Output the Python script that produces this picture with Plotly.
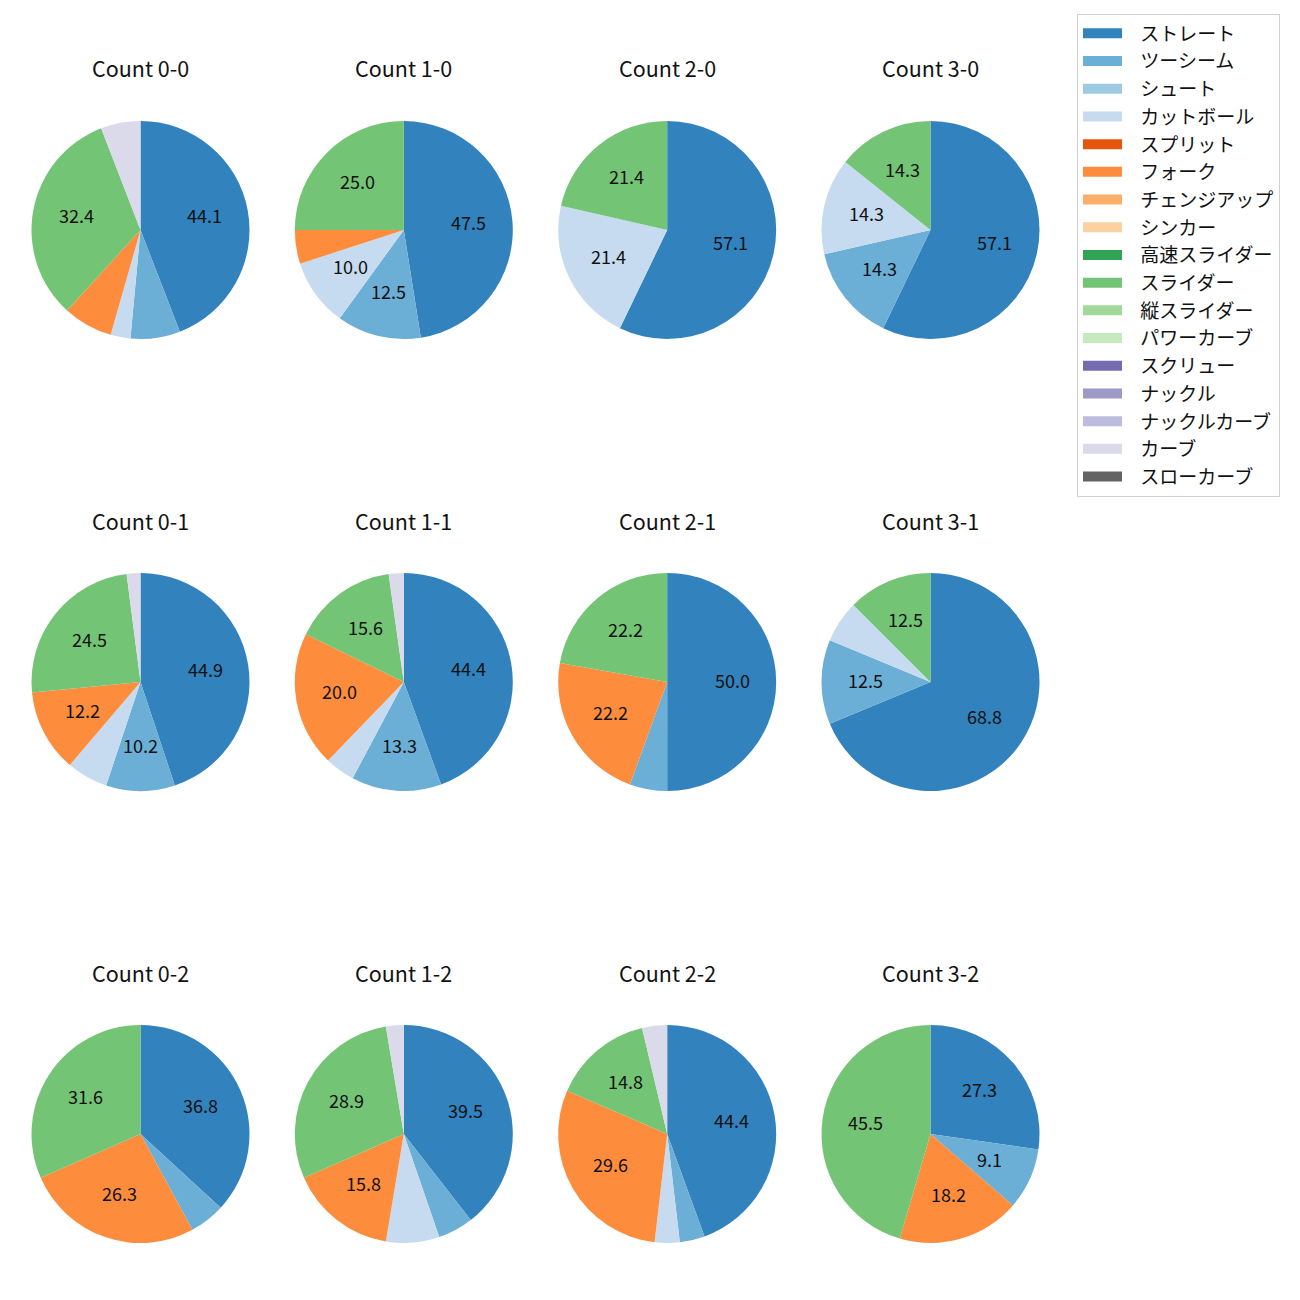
import math
import plotly.graph_objects as go

# ---- data ----
count_labels = ["0-0", "1-0", "2-0", "3-0",
                "0-1", "1-1", "2-1", "3-1",
                "0-2", "1-2", "2-2", "3-2"]

pitch_types = ["ストレート", "ツーシーム", "シュート", "カットボール", "スプリット", "フォーク",
               "チェンジアップ", "シンカー", "高速スライダー", "スライダー", "縦スライダー",
               "パワーカーブ", "スクリュー", "ナックル", "ナックルカーブ", "カーブ", "スローカーブ"]

pitch_colors = ["#3182bd", "#6baed6", "#9ecae1", "#c6dbef", "#e6550d", "#fd8d3c",
                "#fdae6b", "#fdd0a2", "#31a354", "#74c476", "#a1d99b", "#c7e9c0",
                "#756bb1", "#9e9ac8", "#bcbddc", "#dadaeb", "#636363"]

# pitch counts per ball-strike count (order of count_labels)
straight    = [30, 19, 8, 4, 22, 20, 9, 11, 7, 15, 12, 3]
two_seam    = [5, 5, 0, 1, 5, 6, 1, 2, 1, 2, 1, 1]
shoot       = [0] * 12
cutter      = [2, 4, 3, 1, 3, 2, 0, 1, 0, 3, 1, 0]
split       = [0] * 12
fork        = [5, 2, 0, 0, 6, 9, 4, 0, 5, 6, 8, 2]
changeup    = [0] * 12
sinker      = [0] * 12
fast_slider = [0] * 12
slider      = [22, 10, 3, 1, 12, 7, 4, 2, 6, 11, 4, 5]
vert_slider = [0] * 12
power_curve = [0] * 12
screw       = [0] * 12
knuckle     = [0] * 12
knuckle_crv = [0] * 12
curve       = [4, 0, 0, 0, 1, 1, 0, 0, 0, 1, 1, 0]
slow_curve  = [0] * 12

series = [straight, two_seam, shoot, cutter, split, fork, changeup, sinker,
          fast_slider, slider, vert_slider, power_curve, screw, knuckle,
          knuckle_crv, curve, slow_curve]

LABEL_MIN_PCT = 9.0

# ---- layout geometry (pixels) ----
W = H = 1300
col_cx = [140.5, 403.8, 667.2, 930.5]
row_cy = [230.0, 682.0, 1134.0]
R = 109.0
title_offset = 162.0
label_dy = -2.5

fig = go.Figure()
annotations = []

for i, cl in enumerate(count_labels):
    row, col = divmod(i, 4)
    cx, cy = col_cx[col], row_cy[row]
    vals = [s[i] for s in series]
    fig.add_trace(go.Pie(
        labels=pitch_types, values=vals, sort=False,
        direction="clockwise", rotation=0,
        marker=dict(colors=pitch_colors, line=dict(width=0)),
        textinfo="none", hoverinfo="label+percent", showlegend=False,
        domain=dict(x=[(cx - R) / W, (cx + R) / W],
                    y=[1 - (cy + R) / H, 1 - (cy - R) / H]),
    ))
    total = sum(vals)
    cum = 0.0
    for v in vals:
        if v <= 0:
            continue
        pct = 100.0 * v / total
        mid = 2 * math.pi * (cum + v / 2) / total
        cum += v
        if pct < LABEL_MIN_PCT:
            continue
        px = cx + 0.6 * R * math.sin(mid)
        py = cy - 0.6 * R * math.cos(mid) + label_dy
        annotations.append(dict(
            x=px / W, y=1 - py / H, xref="paper", yref="paper",
            text=f"{pct:.1f}", showarrow=False, xanchor="center", yanchor="middle",
            font=dict(size=18, color="#111111")))
    annotations.append(dict(
        x=cx / W, y=1 - (cy - title_offset) / H, xref="paper", yref="paper",
        text=f"Count {cl}", showarrow=False, xanchor="center", yanchor="middle",
        font=dict(size=21.5, color="#111111")))

# legend entries
for name, color in zip(pitch_types, pitch_colors):
    fig.add_trace(go.Scatter(
        x=[None], y=[None], mode="lines", name="\u2002\u2009" + name, legendgroup=name,
        line=dict(color=color, width=10), showlegend=True, hoverinfo="skip"))

fig.update_layout(
    width=W, height=H,
    margin=dict(l=0, r=0, t=0, b=0),
    paper_bgcolor="white", plot_bgcolor="rgba(0,0,0,0)",
    font=dict(family="Noto Sans CJK JP", color="#111111"),
    xaxis=dict(visible=False), yaxis=dict(visible=False),
    annotations=annotations,
    legend=dict(x=1077 / W, y=1 - 13.5 / H, xanchor="left", yanchor="top",
                font=dict(size=19, color="#111111"),
                bordercolor="#d0d0d0", borderwidth=1, bgcolor="white",
                tracegroupgap=0, itemwidth=39),
)

fig.write_html("out.html",
               config={"displayModeBar": False},
               post_script="document.body.style.margin='0';document.body.style.overflow='hidden';")
